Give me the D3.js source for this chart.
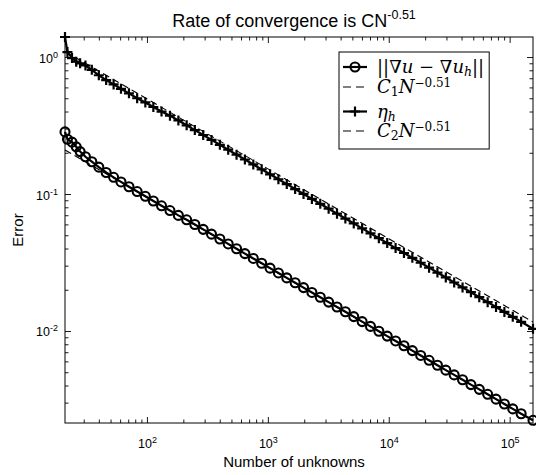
<!DOCTYPE html>
<html><head><meta charset="utf-8">
<script src="https://cdn.jsdelivr.net/npm/d3@7"></script>
<style>body{margin:0;background:#fff}</style>
</head><body>
<svg id="chart" width="536" height="475"></svg>
<script>
// ---- data ----
const unknowns = [21, 22, 24, 26, 28, 31, 35, 40, 46, 53, 61, 71, 83, 97, 113, 132, 155, 182, 213, 249,
  292, 342, 401, 470, 551, 646, 758, 889, 1043, 1223, 1434, 1682, 1973, 2314, 2714, 3183, 3733, 4378, 5135, 6022,
  7063, 8283, 9714, 11393, 13362, 15671, 18379, 21555, 25280, 29648, 34771, 40779, 47826, 56090, 65783, 77150,
  90482, 106118, 124456, 156000];
const errGrad = [0.284, 0.251, 0.239, 0.221, 0.204, 0.187, 0.172, 0.157, 0.1436, 0.1324, 0.1225, 0.1130, 0.1042,
  0.0962, 0.0889, 0.0820, 0.0757, 0.0698, 0.06482, 0.05989, 0.05521, 0.05093, 0.04695, 0.04321, 0.03984, 0.03674,
  0.03386, 0.03122, 0.02877, 0.02653, 0.02441, 0.02250, 0.02074, 0.01912, 0.01763, 0.01625, 0.01498, 0.01381,
  0.01274, 0.01171, 0.01080, 0.00995, 0.00918, 0.00846, 0.00780, 0.00719, 0.00663, 0.00611, 0.00562, 0.00518,
  0.00478, 0.00441, 0.00406, 0.00375, 0.00345, 0.00318, 0.00293, 0.00270, 0.00249, 0.002228];
const etaH = [1.400, 1.086, 0.982, 0.925, 0.900, 0.867, 0.807, 0.736, 0.679, 0.631, 0.586, 0.543, 0.500, 0.466,
  0.4315, 0.400, 0.3733, 0.3443, 0.3174, 0.2927, 0.2696, 0.2483, 0.2286, 0.2105, 0.1938, 0.1786, 0.1643, 0.1513,
  0.1393, 0.1282, 0.1181, 0.1087, 0.1001, 0.0921, 0.0848, 0.0781, 0.0719, 0.0662, 0.0610, 0.0561, 0.0516, 0.0476,
  0.0438, 0.0403, 0.0371, 0.0342, 0.0315, 0.0290, 0.0267, 0.0246, 0.0226, 0.0208, 0.0192, 0.01765, 0.01624,
  0.01495, 0.01377, 0.01268, 0.01167, 0.01038];
const refN = [21, 156000];
const refC1 = [0.2094, 0.002222];
const refC2 = [1.096, 0.01163];
const xLimits = [21, 156000];
const yLimits = [0.00213, 1.40];
const xMajor = [1e2, 1e3, 1e4, 1e5];
const yMajor = [1e-2, 1e-1, 1e0];
const xMajorExp = ["2", "3", "4", "5"];
const yMajorExp = ["-2", "-1", "0"];
const titleMain = "Rate of convergence is CN";
const titleExp = "-0.51";
const xLabel = "Number of unknowns";
const yLabel = "Error";

// ---- layout ----
const L = 65, R = 533, T = 37, B = 423;
const svg = d3.select("#chart");
const sans = "'Liberation Sans', Arial, Helvetica, sans-serif";
const serif = "'DejaVu Serif', serif";

const x = d3.scaleLog().domain(xLimits).range([L, R]);
const y = d3.scaleLog().domain(yLimits).range([B, T]);

const isPow10 = v => Math.abs(Math.log10(v) - Math.round(Math.log10(v))) < 1e-9;
const xMinor = x.ticks().filter(v => !isPow10(v));
const yMinor = y.ticks().filter(v => !isPow10(v));

function addAxis(gen, tx, ty, vals, size) {
  const g = svg.append("g").attr("transform", `translate(${tx},${ty})`)
    .call(gen.tickValues(vals).tickSize(size).tickFormat(""));
  g.select(".domain").remove();
  g.selectAll(".tick line").attr("stroke", "#000").attr("stroke-width", 0.9);
  return g;
}
const gxB = addAxis(d3.axisBottom(x), 0, B, xMajor, -6);
addAxis(d3.axisBottom(x), 0, B, xMinor, -3.5);
addAxis(d3.axisTop(x), 0, T, xMajor, -6);
addAxis(d3.axisTop(x), 0, T, xMinor, -3.5);
const gyL = addAxis(d3.axisLeft(y), L, 0, yMajor, -6);
addAxis(d3.axisLeft(y), L, 0, yMinor, -3.5);
addAxis(d3.axisRight(y), R, 0, yMajor, -6);
addAxis(d3.axisRight(y), R, 0, yMinor, -3.5);

// tick labels with superscripts
gxB.selectAll(".tick").each(function(d, i) {
  const t = d3.select(this).append("text").attr("y", 25).attr("text-anchor", "middle")
    .attr("fill", "#000").style("font-family", sans).style("font-size", "12.5px");
  t.append("tspan").text("10");
  t.append("tspan").attr("dy", -5).style("font-size", "9px").text(xMajorExp[i]);
});
gyL.selectAll(".tick").each(function(d, i) {
  const t = d3.select(this).append("text").attr("x", -7).attr("y", 5).attr("text-anchor", "end")
    .attr("fill", "#000").style("font-family", sans).style("font-size", "12.5px");
  t.append("tspan").text("10");
  t.append("tspan").attr("dy", -5).style("font-size", "9px").text(yMajorExp[i]);
});

// box
svg.append("rect").attr("x", L).attr("y", T).attr("width", R - L).attr("height", B - T)
  .attr("fill", "none").attr("stroke", "#000").attr("stroke-width", 1);

// reference lines
const refLine = d3.line().x(d => x(d[0])).y(d => y(d[1]));
[refC1, refC2].forEach(arr => {
  svg.append("path").datum(refN.map((n, i) => [n, arr[i]])).attr("d", refLine)
    .attr("fill", "none").attr("stroke", "#000").attr("stroke-width", 1.1).attr("stroke-dasharray", "7,4");
});

// data lines
const line = d3.line().x(d => x(d[0])).y(d => y(d[1]));
const errPts = unknowns.map((n, i) => [n, errGrad[i]]);
const etaPts = unknowns.map((n, i) => [n, etaH[i]]);
svg.append("path").datum(errPts).attr("d", line).attr("fill", "none").attr("stroke", "#000").attr("stroke-width", 2.2);
svg.append("path").datum(etaPts).attr("d", line).attr("fill", "none").attr("stroke", "#000").attr("stroke-width", 2.2);

svg.append("g").selectAll("circle").data(errPts).join("circle")
  .attr("cx", d => x(d[0])).attr("cy", d => y(d[1])).attr("r", 4.5)
  .attr("fill", "none").attr("stroke", "#000").attr("stroke-width", 2.1);
const plusPath = "M-5,0H5M0,-5V5";
svg.append("g").selectAll("path").data(etaPts).join("path")
  .attr("transform", d => `translate(${x(d[0])},${y(d[1])})`).attr("d", plusPath)
  .attr("stroke", "#000").attr("stroke-width", 2.2);

// title
const tt = svg.append("text").attr("x", 294).attr("y", 27).attr("text-anchor", "middle")
  .style("font-family", sans).style("font-size", "18px").attr("fill", "#000");
tt.append("tspan").text(titleMain);
tt.append("tspan").attr("dy", -8).style("font-size", "12.5px").text(titleExp);

// axis labels
svg.append("text").attr("x", 294).attr("y", 467).attr("text-anchor", "middle")
  .style("font-family", sans).style("font-size", "15px").attr("fill", "#000").text(xLabel);
svg.append("text").attr("transform", `translate(23,${(T + B) / 2}) rotate(-90)`).attr("text-anchor", "middle")
  .style("font-family", sans).style("font-size", "15px").attr("fill", "#000").text(yLabel);

// legend
const lg = svg.append("g");
const bx = 339, by = 52, bh = 97;
const box = lg.append("rect").attr("x", bx).attr("y", by).attr("height", bh)
  .attr("fill", "#fff").attr("stroke", "#000").attr("stroke-width", 1);
const rows = [67, 87, 111.5, 131];
const lx0 = bx + 4, lx1 = bx + 28, tx = bx + 38;
// row 1
lg.append("line").attr("x1", lx0).attr("x2", lx1).attr("y1", rows[0]).attr("y2", rows[0]).attr("stroke", "#000").attr("stroke-width", 2.2);
lg.append("circle").attr("cx", (lx0 + lx1) / 2).attr("cy", rows[0]).attr("r", 4.5).attr("fill", "none").attr("stroke", "#000").attr("stroke-width", 2.1);
// row 2
lg.append("line").attr("x1", lx0).attr("x2", lx1).attr("y1", rows[1]).attr("y2", rows[1]).attr("stroke", "#000").attr("stroke-width", 1.1).attr("stroke-dasharray", "8,5");
// row 3
lg.append("line").attr("x1", lx0).attr("x2", lx1).attr("y1", rows[2]).attr("y2", rows[2]).attr("stroke", "#000").attr("stroke-width", 2.2);
lg.append("path").attr("transform", `translate(${(lx0 + lx1) / 2},${rows[2]})`).attr("d", plusPath).attr("stroke", "#000").attr("stroke-width", 2.2);
// row 4
lg.append("line").attr("x1", lx0).attr("x2", lx1).attr("y1", rows[3]).attr("y2", rows[3]).attr("stroke", "#000").attr("stroke-width", 1.1).attr("stroke-dasharray", "8,5");

const texts = [];
function legText(yy) {
  const t = lg.append("text").attr("x", tx).attr("y", yy + 6).style("font-family", serif).style("font-size", "18px").attr("fill", "#000");
  texts.push(t);
  return t;
}
const t1 = legText(rows[0]);
t1.append("tspan").text("||∇");
t1.append("tspan").style("font-style", "italic").text("u");
t1.append("tspan").text(" − ∇");
t1.append("tspan").style("font-style", "italic").text("u");
t1.append("tspan").attr("dy", 3).style("font-style", "italic").style("font-size", "12.5px").text("h");
t1.append("tspan").attr("dy", -3).text("||");
function cLabel(yy, sub) {
  const t = legText(yy);
  t.append("tspan").style("font-style", "italic").text("C");
  t.append("tspan").attr("dy", 3).style("font-size", "12.5px").text(sub);
  t.append("tspan").attr("dy", -3).style("font-style", "italic").text("N");
  t.append("tspan").attr("dy", -6).style("font-size", "12px").text("−0.51");
}
cLabel(rows[1], "1");
const t3 = legText(rows[2]);
t3.append("tspan").style("font-style", "italic").text("η");
t3.append("tspan").attr("dy", 3).style("font-style", "italic").style("font-size", "12.5px").text("h");
cLabel(rows[3], "2");
const maxRight = d3.max(texts, t => { const b = t.node().getBBox(); return b.x + b.width; });
box.attr("width", Math.max(140, maxRight + 5 - bx));
</script>
</body></html>
